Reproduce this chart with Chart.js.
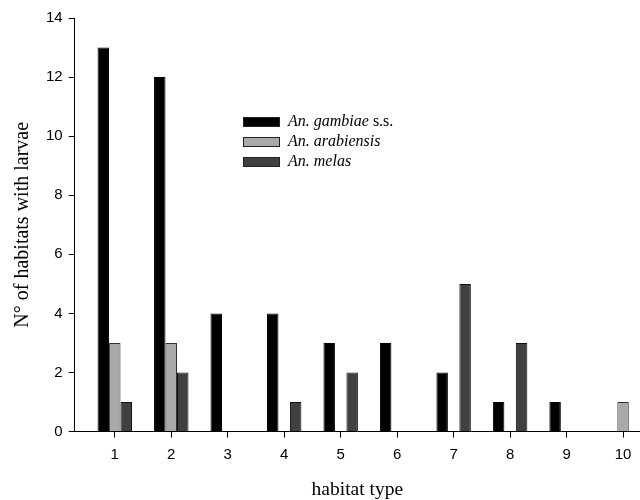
<!DOCTYPE html>
<html>
<head>
<meta charset="utf-8">
<script src="https://cdn.jsdelivr.net/npm/chart.js@4"></script>
<style>
  body { margin: 0; background: #fff; }
</style>
</head>
<body>
<canvas id="habitatChart" width="640" height="500"></canvas>
<script>
// habitat types on the x axis
const habitatTypes = [1, 2, 3, 4, 5, 6, 7, 8, 9, 10];

// number of habitats with larvae, per species
const gambiae = [13, 12, 4, 4, 3, 3, 2, 1, 1, 0];
const arabiensis = [3, 3, 0, 0, 0, 0, 0, 0, 0, 1];
const melas = [1, 2, 0, 1, 2, 0, 5, 3, 0, 0];

const yTicks = [0, 2, 4, 6, 8, 10, 12, 14];

const toPoints = vals => vals.map((v, i) => ({ x: habitatTypes[i], y: v }));

// legend drawn inside the plot, like the original figure
const insideLegend = {
  id: 'insideLegend',
  afterDraw(chart) {
    const ctx = chart.ctx;
    const x = 243, y = 122;
    chart.data.datasets.forEach((ds, i) => {
      const mid = y + i * 20;
      ctx.fillStyle = ds.backgroundColor;
      ctx.fillRect(x, mid - 5, 37, 10);
      ctx.strokeStyle = '#222';
      ctx.lineWidth = 1;
      ctx.strokeRect(x + 0.5, mid - 4.5, 36, 9);
      ctx.fillStyle = '#000';
      ctx.textBaseline = 'middle';
      ctx.font = 'italic 16px "Liberation Serif", serif';
      ctx.fillText(ds.label, x + 45, mid);
      if (ds.suffix) {
        const w = ctx.measureText(ds.label).width;
        ctx.font = '16px "Liberation Serif", serif';
        ctx.fillText(ds.suffix, x + 45 + w + 4, mid);
      }
    });
  }
};

const gridOpts = {
  display: true,
  drawOnChartArea: false,
  drawTicks: true,
  offset: false,
  color: '#000',
  lineWidth: 1,
  tickColor: '#000',
  tickWidth: 1,
  tickLength: 6
};

const ctx = document.getElementById('habitatChart').getContext('2d');
new Chart(ctx, {
  type: 'bar',
  data: {
    datasets: [
      { label: 'An. gambiae', suffix: 's.s.', data: toPoints(gambiae), backgroundColor: '#000000', borderColor: '#000000', borderWidth: 1 },
      { label: 'An. arabiensis', data: toPoints(arabiensis), backgroundColor: '#a9a9a9', borderColor: '#333333', borderWidth: 1 },
      { label: 'An. melas', data: toPoints(melas), backgroundColor: '#404040', borderColor: '#111111', borderWidth: 1 }
    ]
  },
  options: {
    responsive: false,
    animation: false,
    layout: { padding: { top: 18, right: 0, left: 0, bottom: 0 } },
    datasets: {
      bar: { barPercentage: 1, categoryPercentage: 0.61, skipNull: false }
    },
    plugins: {
      legend: { display: false },
      tooltip: { enabled: false }
    },
    scales: {
      x: {
        type: 'linear',
        min: 0.29,
        max: 10.3,
        offset: false,
        grid: gridOpts,
        border: { display: true, color: '#000', width: 1 },
        ticks: {
          stepSize: 1,
          includeBounds: false,
          autoSkip: false,
          maxRotation: 0,
          color: '#000',
          font: { family: '"Liberation Sans", Arial', size: 15 },
          padding: 8
        },
        title: { display: true, text: 'habitat type', color: '#000', font: { family: '"Liberation Serif", serif', size: 19.5 }, padding: { top: 7, bottom: -2 } }
      },
      y: {
        min: 0,
        max: 14,
        afterBuildTicks: axis => { axis.ticks = yTicks.map(v => ({ value: v })); },
        grid: gridOpts,
        border: { display: true, color: '#000', width: 1 },
        ticks: { color: '#000', font: { family: '"Liberation Sans", Arial', size: 15 }, padding: 6 },
        title: { display: true, text: 'N° of habitats with larvae', color: '#000', font: { family: '"Liberation Serif", serif', size: 20 }, padding: { top: 11, bottom: 5 } }
      }
    }
  },
  plugins: [insideLegend]
});
</script>
</body>
</html>
